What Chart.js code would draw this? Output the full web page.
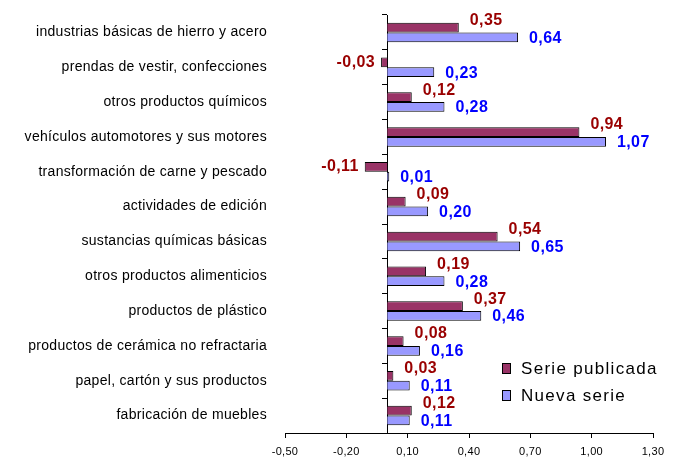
<!DOCTYPE html>
<html>
<head>
<meta charset="utf-8">
<script src="https://cdn.jsdelivr.net/npm/chart.js@4.4.0/dist/chart.umd.min.js"></script>
<style>
  html, body { margin: 0; padding: 0; background: #fff; }
  #wrap { width: 676px; height: 457px; }
</style>
</head>
<body>
<div id="wrap"><canvas id="myChart"></canvas></div>
<script>
const categories = [
  'industrias básicas de hierro y acero',
  'prendas de vestir, confecciones',
  'otros productos químicos',
  'vehículos automotores y sus motores',
  'transformación de carne y pescado',
  'actividades de edición',
  'sustancias químicas básicas',
  'otros productos alimenticios',
  'productos de plástico',
  'productos de cerámica no refractaria',
  'papel, cartón y sus productos',
  'fabricación de muebles'
];
const seriePublicada = [0.35, -0.03, 0.12, 0.94, -0.11, 0.09, 0.54, 0.19, 0.37, 0.08, 0.03, 0.12];
const nuevaSerie = [0.64, 0.23, 0.28, 1.07, 0.01, 0.20, 0.65, 0.28, 0.46, 0.16, 0.11, 0.11];
const xTicks = [-0.5, -0.2, 0.1, 0.4, 0.7, 1.0, 1.3];

const labelColors = ['#990000', '#0000ff'];
const fmt = v => v.toFixed(2).replace('.', ',');

// espaciado de letras para los textos de los ejes
const spacing = {
  id: 'spacing',
  beforeDraw(chart) { chart.ctx.letterSpacing = '0.3px'; },
  afterDraw(chart) { chart.ctx.letterSpacing = '0px'; }
};

// etiquetas de valor junto a cada barra
const valueLabels = {
  id: 'valueLabels',
  afterDatasetsDraw(chart) {
    const ctx = chart.ctx;
    ctx.save();
    ctx.font = 'bold 16px "Liberation Sans", Arial, sans-serif';
    ctx.letterSpacing = '0.4px';
    ctx.textBaseline = 'middle';
    chart.data.datasets.forEach((ds, i) => {
      const meta = chart.getDatasetMeta(i);
      ctx.fillStyle = labelColors[i];
      meta.data.forEach((el, j) => {
        const v = ds.data[j];
        let y = el.y + (i === 0 ? (v >= 0 ? -7 : 0) : 1);
        if (v >= 0) {
          ctx.textAlign = 'left';
          ctx.fillText(fmt(v), el.x + 11, y);
        } else {
          ctx.textAlign = 'right';
          ctx.fillText(fmt(v), el.x - 6, y);
        }
      });
    });
    ctx.restore();
  }
};

// leyenda dentro del área del gráfico
const innerLegend = {
  id: 'innerLegend',
  afterDraw(chart) {
    const ctx = chart.ctx;
    const a = chart.chartArea;
    ctx.save();
    ctx.font = '17px "Liberation Sans", Arial, sans-serif';
    ctx.letterSpacing = '1.3px';
    ctx.textBaseline = 'middle';
    ctx.textAlign = 'left';
    chart.data.datasets.forEach((ds, i) => {
      const y = a.bottom - 65 + i * 27;
      const x = a.right - 151;
      ctx.fillStyle = ds.backgroundColor;
      ctx.fillRect(x, y - 5, 9, 10);
      ctx.strokeStyle = '#000';
      ctx.lineWidth = 1;
      ctx.strokeRect(x + 0.5, y - 4.5, 8, 10);
      ctx.fillStyle = '#000';
      ctx.fillText(ds.label, x + 19, y + 1);
    });
    ctx.restore();
  }
};

new Chart(document.getElementById('myChart'), {
  type: 'bar',
  data: {
    labels: categories,
    datasets: [{
      label: 'Serie publicada',
      data: seriePublicada,
      backgroundColor: '#993366',
      borderColor: '#000',
      borderWidth: 1,
      categoryPercentage: 0.56,
      barPercentage: 1.0,
      yAxisID: 'y'
    }, {
      label: 'Nueva serie',
      data: nuevaSerie,
      backgroundColor: '#9999ff',
      borderColor: '#000',
      borderWidth: 1,
      categoryPercentage: 0.56,
      barPercentage: 1.0,
      yAxisID: 'y'
    }]
  },
  options: {
    indexAxis: 'y',
    responsive: true,
    maintainAspectRatio: false,
    animation: false,
    layout: { padding: { top: 15, right: 23, left: 0, bottom: 0 } },
    plugins: {
      legend: { display: false },
      tooltip: { enabled: false }
    },
    scales: {
      x: {
        min: -0.5,
        max: 1.3,
        afterBuildTicks: s => { s.ticks = xTicks.map(v => ({ value: v })); },
        afterFit: s => { s.height = 24; },
        grid: { drawOnChartArea: false, tickLength: 5, color: '#000' },
        border: { color: '#000' },
        ticks: {
          color: '#000',
          padding: 7,
          maxRotation: 0,
          font: { family: '"Liberation Sans", Arial, sans-serif', size: 11 },
          callback: v => fmt(v)
        }
      },
      y: {
        position: 'left',
        afterFit: s => { s.width = 285; s.paddingTop = 0; s.paddingBottom = 0; },
        grid: { display: false },
        border: { display: false },
        ticks: {
          color: '#000',
          padding: 10,
          font: { family: '"Liberation Sans", Arial, sans-serif', size: 14 }
        }
      },
      y2: {
        type: 'category',
        position: { x: 0 },
        offset: true,
        afterFit: s => { s.paddingTop = 0; s.paddingBottom = 0; },
        grid: { offset: true, drawOnChartArea: false, tickLength: 5, color: '#000' },
        border: { color: '#000' },
        ticks: { display: false }
      }
    }
  },
  plugins: [spacing, valueLabels, innerLegend]
});
</script>
</body>
</html>
